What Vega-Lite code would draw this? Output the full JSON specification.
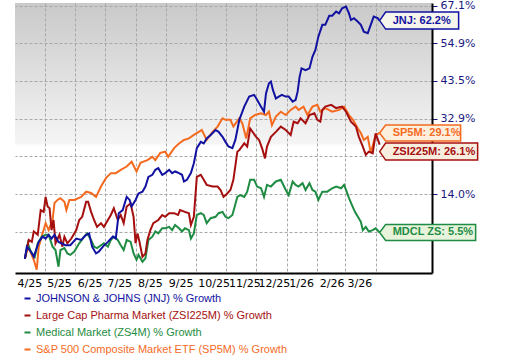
{
"$schema": "https://vega.github.io/schema/vega-lite/v6.json",
"width": 417, "height": 270,
"autosize": {"type": "none"},
"padding": {"left": 15, "top": 3, "right": 73, "bottom": 83},
"background": "#ffffff",
"config": {"axisX": {"labelOverlap": false, "labelFlush": false}, "axisTemporal": {"labelOverlap": false}},
"view": {"stroke": null, "fill": {"gradient": "linear", "x1": 0, "y1": 0, "x2": 0, "y2": 1, "stops": [{"offset": 0, "color": "#c9c9c9"}, {"offset": 0.52, "color": "#f5f5f5"}, {"offset": 0.53, "color": "#ffffff"}, {"offset": 1, "color": "#ffffff"}]}},
"datasets": {
"lines": [
{"series":"SP5M","date":"2025/04/11","value":100.0},{"series":"SP5M","date":"2025/04/14","value":102.5},{"series":"SP5M","date":"2025/04/17","value":101.2},{"series":"SP5M","date":"2025/04/20","value":99.8},{"series":"SP5M","date":"2025/04/23","value":97.8},{"series":"SP5M","date":"2025/04/25","value":102.5},{"series":"SP5M","date":"2025/04/29","value":105.4},{"series":"SP5M","date":"2025/05/02","value":107.5},{"series":"SP5M","date":"2025/05/05","value":106.0},{"series":"SP5M","date":"2025/05/09","value":108.2},{"series":"SP5M","date":"2025/05/11","value":112.0},{"series":"SP5M","date":"2025/05/14","value":112.7},{"series":"SP5M","date":"2025/05/17","value":113.1},{"series":"SP5M","date":"2025/05/21","value":112.3},{"series":"SP5M","date":"2025/05/23","value":110.4},{"series":"SP5M","date":"2025/05/26","value":112.7},{"series":"SP5M","date":"2025/05/31","value":112.7},{"series":"SP5M","date":"2025/06/07","value":113.4},{"series":"SP5M","date":"2025/06/12","value":114.6},{"series":"SP5M","date":"2025/06/17","value":114.3},{"series":"SP5M","date":"2025/06/22","value":113.4},{"series":"SP5M","date":"2025/06/27","value":115.8},{"series":"SP5M","date":"2025/07/02","value":117.8},{"series":"SP5M","date":"2025/07/07","value":119.0},{"series":"SP5M","date":"2025/07/12","value":119.0},{"series":"SP5M","date":"2025/07/17","value":119.8},{"series":"SP5M","date":"2025/07/23","value":120.6},{"series":"SP5M","date":"2025/07/28","value":121.8},{"series":"SP5M","date":"2025/08/02","value":119.4},{"series":"SP5M","date":"2025/08/06","value":121.5},{"series":"SP5M","date":"2025/08/13","value":122.2},{"series":"SP5M","date":"2025/08/18","value":123.0},{"series":"SP5M","date":"2025/08/21","value":122.2},{"series":"SP5M","date":"2025/08/26","value":124.0},{"series":"SP5M","date":"2025/08/31","value":124.3},{"series":"SP5M","date":"2025/09/03","value":123.0},{"series":"SP5M","date":"2025/09/09","value":125.2},{"series":"SP5M","date":"2025/09/14","value":126.4},{"series":"SP5M","date":"2025/09/19","value":127.3},{"series":"SP5M","date":"2025/09/24","value":127.7},{"series":"SP5M","date":"2025/09/29","value":128.6},{"series":"SP5M","date":"2025/10/04","value":129.4},{"series":"SP5M","date":"2025/10/07","value":129.9},{"series":"SP5M","date":"2025/10/12","value":127.3},{"series":"SP5M","date":"2025/10/18","value":129.4},{"series":"SP5M","date":"2025/10/23","value":130.8},{"series":"SP5M","date":"2025/10/28","value":133.0},{"series":"SP5M","date":"2025/10/31","value":132.6},{"series":"SP5M","date":"2025/11/05","value":132.6},{"series":"SP5M","date":"2025/11/08","value":130.8},{"series":"SP5M","date":"2025/11/14","value":133.0},{"series":"SP5M","date":"2025/11/17","value":131.7},{"series":"SP5M","date":"2025/11/21","value":127.7},{"series":"SP5M","date":"2025/11/25","value":133.0},{"series":"SP5M","date":"2025/11/30","value":133.9},{"series":"SP5M","date":"2025/12/06","value":134.4},{"series":"SP5M","date":"2025/12/11","value":133.9},{"series":"SP5M","date":"2025/12/14","value":134.8},{"series":"SP5M","date":"2025/12/17","value":131.2},{"series":"SP5M","date":"2025/12/21","value":133.5},{"series":"SP5M","date":"2025/12/26","value":134.8},{"series":"SP5M","date":"2025/12/31","value":133.9},{"series":"SP5M","date":"2026/01/05","value":135.3},{"series":"SP5M","date":"2026/01/10","value":136.2},{"series":"SP5M","date":"2026/01/13","value":135.3},{"series":"SP5M","date":"2026/01/18","value":136.2},{"series":"SP5M","date":"2026/01/22","value":133.9},{"series":"SP5M","date":"2026/01/27","value":136.2},{"series":"SP5M","date":"2026/02/01","value":136.7},{"series":"SP5M","date":"2026/02/04","value":134.8},{"series":"SP5M","date":"2026/02/09","value":135.8},{"series":"SP5M","date":"2026/02/16","value":134.8},{"series":"SP5M","date":"2026/02/23","value":135.3},{"series":"SP5M","date":"2026/02/28","value":136.2},{"series":"SP5M","date":"2026/03/05","value":133.9},{"series":"SP5M","date":"2026/03/09","value":132.6},{"series":"SP5M","date":"2026/03/14","value":130.3},{"series":"SP5M","date":"2026/03/17","value":129.1},{"series":"SP5M","date":"2026/03/20","value":127.3},{"series":"SP5M","date":"2026/03/24","value":128.1},{"series":"SP5M","date":"2026/03/27","value":124.0},{"series":"SP5M","date":"2026/04/01","value":128.6},{"series":"SP5M","date":"2026/04/05","value":129.1},
{"series":"ZS4M","date":"2025/04/11","value":100.0},{"series":"ZS4M","date":"2025/04/14","value":103.2},{"series":"ZS4M","date":"2025/04/17","value":101.5},{"series":"ZS4M","date":"2025/04/21","value":100.4},{"series":"ZS4M","date":"2025/04/24","value":103.2},{"series":"ZS4M","date":"2025/04/28","value":104.6},{"series":"ZS4M","date":"2025/05/02","value":105.0},{"series":"ZS4M","date":"2025/05/05","value":105.0},{"series":"ZS4M","date":"2025/05/09","value":102.5},{"series":"ZS4M","date":"2025/05/12","value":101.8},{"series":"ZS4M","date":"2025/05/15","value":98.4},{"series":"ZS4M","date":"2025/05/17","value":101.8},{"series":"ZS4M","date":"2025/05/21","value":102.2},{"series":"ZS4M","date":"2025/05/24","value":101.1},{"series":"ZS4M","date":"2025/05/27","value":100.8},{"series":"ZS4M","date":"2025/05/31","value":101.5},{"series":"ZS4M","date":"2025/06/05","value":103.2},{"series":"ZS4M","date":"2025/06/10","value":104.6},{"series":"ZS4M","date":"2025/06/13","value":105.3},{"series":"ZS4M","date":"2025/06/17","value":103.9},{"series":"ZS4M","date":"2025/06/20","value":102.5},{"series":"ZS4M","date":"2025/06/23","value":102.2},{"series":"ZS4M","date":"2025/06/27","value":102.8},{"series":"ZS4M","date":"2025/06/30","value":103.2},{"series":"ZS4M","date":"2025/07/04","value":102.5},{"series":"ZS4M","date":"2025/07/07","value":103.9},{"series":"ZS4M","date":"2025/07/10","value":104.6},{"series":"ZS4M","date":"2025/07/14","value":103.9},{"series":"ZS4M","date":"2025/07/17","value":102.8},{"series":"ZS4M","date":"2025/07/20","value":101.8},{"series":"ZS4M","date":"2025/07/23","value":103.9},{"series":"ZS4M","date":"2025/07/27","value":103.5},{"series":"ZS4M","date":"2025/07/30","value":101.1},{"series":"ZS4M","date":"2025/08/02","value":99.8},{"series":"ZS4M","date":"2025/08/04","value":100.8},{"series":"ZS4M","date":"2025/08/08","value":99.4},{"series":"ZS4M","date":"2025/08/11","value":100.1},{"series":"ZS4M","date":"2025/08/14","value":103.9},{"series":"ZS4M","date":"2025/08/18","value":104.6},{"series":"ZS4M","date":"2025/08/21","value":105.7},{"series":"ZS4M","date":"2025/08/24","value":105.3},{"series":"ZS4M","date":"2025/08/28","value":106.4},{"series":"ZS4M","date":"2025/08/31","value":106.4},{"series":"ZS4M","date":"2025/09/04","value":106.7},{"series":"ZS4M","date":"2025/09/07","value":106.0},{"series":"ZS4M","date":"2025/09/10","value":107.1},{"series":"ZS4M","date":"2025/09/14","value":106.4},{"series":"ZS4M","date":"2025/09/17","value":105.7},{"series":"ZS4M","date":"2025/09/20","value":106.4},{"series":"ZS4M","date":"2025/09/24","value":106.0},{"series":"ZS4M","date":"2025/09/26","value":104.2},{"series":"ZS4M","date":"2025/09/29","value":105.3},{"series":"ZS4M","date":"2025/10/02","value":109.3},{"series":"ZS4M","date":"2025/10/06","value":109.7},{"series":"ZS4M","date":"2025/10/09","value":109.3},{"series":"ZS4M","date":"2025/10/12","value":107.5},{"series":"ZS4M","date":"2025/10/16","value":108.6},{"series":"ZS4M","date":"2025/10/21","value":108.9},{"series":"ZS4M","date":"2025/10/24","value":109.7},{"series":"ZS4M","date":"2025/10/28","value":110.0},{"series":"ZS4M","date":"2025/10/31","value":108.9},{"series":"ZS4M","date":"2025/11/03","value":108.6},{"series":"ZS4M","date":"2025/11/07","value":109.3},{"series":"ZS4M","date":"2025/11/12","value":113.4},{"series":"ZS4M","date":"2025/11/15","value":113.8},{"series":"ZS4M","date":"2025/11/19","value":113.4},{"series":"ZS4M","date":"2025/11/22","value":114.6},{"series":"ZS4M","date":"2025/11/25","value":117.4},{"series":"ZS4M","date":"2025/11/29","value":117.4},{"series":"ZS4M","date":"2025/12/02","value":115.8},{"series":"ZS4M","date":"2025/12/06","value":115.4},{"series":"ZS4M","date":"2025/12/09","value":113.4},{"series":"ZS4M","date":"2025/12/12","value":116.2},{"series":"ZS4M","date":"2025/12/16","value":115.8},{"series":"ZS4M","date":"2025/12/21","value":117.0},{"series":"ZS4M","date":"2025/12/26","value":117.4},{"series":"ZS4M","date":"2025/12/31","value":115.0},{"series":"ZS4M","date":"2026/01/03","value":113.8},{"series":"ZS4M","date":"2026/01/07","value":117.0},{"series":"ZS4M","date":"2026/01/10","value":116.2},{"series":"ZS4M","date":"2026/01/13","value":115.8},{"series":"ZS4M","date":"2026/01/17","value":116.6},{"series":"ZS4M","date":"2026/01/20","value":115.0},{"series":"ZS4M","date":"2026/01/24","value":116.6},{"series":"ZS4M","date":"2026/01/27","value":115.0},{"series":"ZS4M","date":"2026/01/30","value":114.6},{"series":"ZS4M","date":"2026/02/02","value":112.7},{"series":"ZS4M","date":"2026/02/06","value":114.6},{"series":"ZS4M","date":"2026/02/11","value":114.6},{"series":"ZS4M","date":"2026/02/16","value":115.4},{"series":"ZS4M","date":"2026/02/20","value":115.8},{"series":"ZS4M","date":"2026/02/25","value":115.4},{"series":"ZS4M","date":"2026/02/28","value":116.2},{"series":"ZS4M","date":"2026/03/02","value":115.0},{"series":"ZS4M","date":"2026/03/05","value":113.1},{"series":"ZS4M","date":"2026/03/08","value":111.5},{"series":"ZS4M","date":"2026/03/11","value":110.0},{"series":"ZS4M","date":"2026/03/14","value":108.9},{"series":"ZS4M","date":"2026/03/17","value":107.8},{"series":"ZS4M","date":"2026/03/19","value":106.0},{"series":"ZS4M","date":"2026/03/22","value":106.7},{"series":"ZS4M","date":"2026/03/25","value":105.7},{"series":"ZS4M","date":"2026/03/29","value":106.0},{"series":"ZS4M","date":"2026/04/01","value":106.4},{"series":"ZS4M","date":"2026/04/05","value":105.5},
{"series":"ZSI225M","date":"2025/04/11","value":100.0},{"series":"ZSI225M","date":"2025/04/15","value":103.9},{"series":"ZSI225M","date":"2025/04/18","value":103.5},{"series":"ZSI225M","date":"2025/04/20","value":105.7},{"series":"ZSI225M","date":"2025/04/22","value":105.4},{"series":"ZSI225M","date":"2025/04/24","value":105.0},{"series":"ZSI225M","date":"2025/04/27","value":110.4},{"series":"ZSI225M","date":"2025/04/30","value":110.0},{"series":"ZSI225M","date":"2025/05/02","value":113.4},{"series":"ZSI225M","date":"2025/05/04","value":111.2},{"series":"ZSI225M","date":"2025/05/06","value":110.8},{"series":"ZSI225M","date":"2025/05/08","value":106.0},{"series":"ZSI225M","date":"2025/05/10","value":108.2},{"series":"ZSI225M","date":"2025/05/12","value":103.2},{"series":"ZSI225M","date":"2025/05/16","value":105.0},{"series":"ZSI225M","date":"2025/05/19","value":102.5},{"series":"ZSI225M","date":"2025/05/21","value":104.6},{"series":"ZSI225M","date":"2025/05/24","value":103.2},{"series":"ZSI225M","date":"2025/05/28","value":104.2},{"series":"ZSI225M","date":"2025/06/02","value":106.0},{"series":"ZSI225M","date":"2025/06/05","value":108.2},{"series":"ZSI225M","date":"2025/06/08","value":108.9},{"series":"ZSI225M","date":"2025/06/12","value":112.3},{"series":"ZSI225M","date":"2025/06/14","value":112.3},{"series":"ZSI225M","date":"2025/06/17","value":110.0},{"series":"ZSI225M","date":"2025/06/20","value":108.2},{"series":"ZSI225M","date":"2025/06/23","value":106.7},{"series":"ZSI225M","date":"2025/06/27","value":107.5},{"series":"ZSI225M","date":"2025/06/30","value":106.7},{"series":"ZSI225M","date":"2025/07/04","value":108.2},{"series":"ZSI225M","date":"2025/07/07","value":109.3},{"series":"ZSI225M","date":"2025/07/10","value":110.8},{"series":"ZSI225M","date":"2025/07/14","value":108.2},{"series":"ZSI225M","date":"2025/07/17","value":109.3},{"series":"ZSI225M","date":"2025/07/20","value":107.5},{"series":"ZSI225M","date":"2025/07/23","value":111.2},{"series":"ZSI225M","date":"2025/07/27","value":111.9},{"series":"ZSI225M","date":"2025/07/30","value":108.9},{"series":"ZSI225M","date":"2025/08/01","value":103.2},{"series":"ZSI225M","date":"2025/08/03","value":105.3},{"series":"ZSI225M","date":"2025/08/05","value":103.5},{"series":"ZSI225M","date":"2025/08/08","value":100.4},{"series":"ZSI225M","date":"2025/08/11","value":101.1},{"series":"ZSI225M","date":"2025/08/13","value":103.9},{"series":"ZSI225M","date":"2025/08/16","value":106.0},{"series":"ZSI225M","date":"2025/08/19","value":107.5},{"series":"ZSI225M","date":"2025/08/24","value":108.2},{"series":"ZSI225M","date":"2025/08/28","value":109.3},{"series":"ZSI225M","date":"2025/08/31","value":108.9},{"series":"ZSI225M","date":"2025/09/04","value":109.7},{"series":"ZSI225M","date":"2025/09/09","value":109.7},{"series":"ZSI225M","date":"2025/09/13","value":109.3},{"series":"ZSI225M","date":"2025/09/15","value":110.4},{"series":"ZSI225M","date":"2025/09/20","value":110.0},{"series":"ZSI225M","date":"2025/09/24","value":109.7},{"series":"ZSI225M","date":"2025/09/26","value":107.1},{"series":"ZSI225M","date":"2025/09/29","value":108.9},{"series":"ZSI225M","date":"2025/10/02","value":118.1},{"series":"ZSI225M","date":"2025/10/06","value":118.6},{"series":"ZSI225M","date":"2025/10/09","value":117.4},{"series":"ZSI225M","date":"2025/10/12","value":116.2},{"series":"ZSI225M","date":"2025/10/18","value":115.8},{"series":"ZSI225M","date":"2025/10/23","value":115.8},{"series":"ZSI225M","date":"2025/10/26","value":115.0},{"series":"ZSI225M","date":"2025/10/29","value":113.4},{"series":"ZSI225M","date":"2025/11/01","value":114.0},{"series":"ZSI225M","date":"2025/11/05","value":115.0},{"series":"ZSI225M","date":"2025/11/08","value":117.4},{"series":"ZSI225M","date":"2025/11/12","value":124.3},{"series":"ZSI225M","date":"2025/11/14","value":124.7},{"series":"ZSI225M","date":"2025/11/19","value":126.4},{"series":"ZSI225M","date":"2025/11/22","value":125.6},{"series":"ZSI225M","date":"2025/11/25","value":130.3},{"series":"ZSI225M","date":"2025/12/01","value":128.1},{"series":"ZSI225M","date":"2025/12/04","value":127.3},{"series":"ZSI225M","date":"2025/12/07","value":125.2},{"series":"ZSI225M","date":"2025/12/10","value":122.6},{"series":"ZSI225M","date":"2025/12/12","value":125.6},{"series":"ZSI225M","date":"2025/12/16","value":128.1},{"series":"ZSI225M","date":"2025/12/21","value":129.4},{"series":"ZSI225M","date":"2025/12/26","value":130.8},{"series":"ZSI225M","date":"2025/12/31","value":129.9},{"series":"ZSI225M","date":"2026/01/05","value":128.6},{"series":"ZSI225M","date":"2026/01/08","value":132.1},{"series":"ZSI225M","date":"2026/01/12","value":131.7},{"series":"ZSI225M","date":"2026/01/15","value":133.0},{"series":"ZSI225M","date":"2026/01/20","value":131.7},{"series":"ZSI225M","date":"2026/01/24","value":133.9},{"series":"ZSI225M","date":"2026/01/29","value":134.4},{"series":"ZSI225M","date":"2026/02/01","value":132.6},{"series":"ZSI225M","date":"2026/02/04","value":132.1},{"series":"ZSI225M","date":"2026/02/06","value":135.3},{"series":"ZSI225M","date":"2026/02/09","value":136.2},{"series":"ZSI225M","date":"2026/02/15","value":136.7},{"series":"ZSI225M","date":"2026/02/20","value":135.8},{"series":"ZSI225M","date":"2026/02/26","value":136.2},{"series":"ZSI225M","date":"2026/03/02","value":134.8},{"series":"ZSI225M","date":"2026/03/07","value":132.1},{"series":"ZSI225M","date":"2026/03/12","value":130.8},{"series":"ZSI225M","date":"2026/03/15","value":128.1},{"series":"ZSI225M","date":"2026/03/19","value":125.6},{"series":"ZSI225M","date":"2026/03/22","value":123.5},{"series":"ZSI225M","date":"2026/03/25","value":124.3},{"series":"ZSI225M","date":"2026/03/29","value":123.9},{"series":"ZSI225M","date":"2026/04/01","value":129.0},{"series":"ZSI225M","date":"2026/04/05","value":126.1},
{"series":"JNJ","date":"2025/04/11","value":100.0},{"series":"JNJ","date":"2025/04/13","value":102.5},{"series":"JNJ","date":"2025/04/17","value":101.5},{"series":"JNJ","date":"2025/04/20","value":100.4},{"series":"JNJ","date":"2025/04/25","value":103.5},{"series":"JNJ","date":"2025/04/29","value":104.6},{"series":"JNJ","date":"2025/05/02","value":104.2},{"series":"JNJ","date":"2025/05/05","value":105.0},{"series":"JNJ","date":"2025/05/08","value":104.2},{"series":"JNJ","date":"2025/05/11","value":105.0},{"series":"JNJ","date":"2025/05/15","value":103.5},{"series":"JNJ","date":"2025/05/22","value":102.8},{"series":"JNJ","date":"2025/05/27","value":102.8},{"series":"JNJ","date":"2025/06/02","value":104.2},{"series":"JNJ","date":"2025/06/07","value":103.9},{"series":"JNJ","date":"2025/06/12","value":105.0},{"series":"JNJ","date":"2025/06/15","value":105.3},{"series":"JNJ","date":"2025/06/18","value":102.5},{"series":"JNJ","date":"2025/06/22","value":101.1},{"series":"JNJ","date":"2025/06/25","value":101.5},{"series":"JNJ","date":"2025/06/29","value":102.5},{"series":"JNJ","date":"2025/07/04","value":103.5},{"series":"JNJ","date":"2025/07/09","value":104.6},{"series":"JNJ","date":"2025/07/12","value":104.2},{"series":"JNJ","date":"2025/07/15","value":109.7},{"series":"JNJ","date":"2025/07/19","value":110.4},{"series":"JNJ","date":"2025/07/23","value":113.4},{"series":"JNJ","date":"2025/07/26","value":112.7},{"series":"JNJ","date":"2025/07/28","value":111.2},{"series":"JNJ","date":"2025/08/01","value":112.7},{"series":"JNJ","date":"2025/08/04","value":114.2},{"series":"JNJ","date":"2025/08/08","value":114.6},{"series":"JNJ","date":"2025/08/11","value":115.8},{"series":"JNJ","date":"2025/08/14","value":118.1},{"series":"JNJ","date":"2025/08/18","value":118.6},{"series":"JNJ","date":"2025/08/21","value":119.8},{"series":"JNJ","date":"2025/08/24","value":120.2},{"series":"JNJ","date":"2025/08/28","value":118.6},{"series":"JNJ","date":"2025/08/31","value":119.0},{"series":"JNJ","date":"2025/09/04","value":119.8},{"series":"JNJ","date":"2025/09/07","value":119.0},{"series":"JNJ","date":"2025/09/10","value":119.4},{"series":"JNJ","date":"2025/09/14","value":119.0},{"series":"JNJ","date":"2025/09/17","value":118.6},{"series":"JNJ","date":"2025/09/19","value":117.0},{"series":"JNJ","date":"2025/09/22","value":117.4},{"series":"JNJ","date":"2025/09/26","value":119.0},{"series":"JNJ","date":"2025/09/29","value":121.4},{"series":"JNJ","date":"2025/10/02","value":125.2},{"series":"JNJ","date":"2025/10/06","value":126.8},{"series":"JNJ","date":"2025/10/09","value":126.4},{"series":"JNJ","date":"2025/10/12","value":127.7},{"series":"JNJ","date":"2025/10/16","value":128.6},{"series":"JNJ","date":"2025/10/21","value":129.9},{"series":"JNJ","date":"2025/10/24","value":129.4},{"series":"JNJ","date":"2025/10/28","value":128.1},{"series":"JNJ","date":"2025/10/31","value":126.8},{"series":"JNJ","date":"2025/11/03","value":125.6},{"series":"JNJ","date":"2025/11/07","value":125.2},{"series":"JNJ","date":"2025/11/10","value":127.3},{"series":"JNJ","date":"2025/11/14","value":132.6},{"series":"JNJ","date":"2025/11/19","value":136.2},{"series":"JNJ","date":"2025/11/24","value":139.0},{"series":"JNJ","date":"2025/11/29","value":139.5},{"series":"JNJ","date":"2025/12/02","value":138.1},{"series":"JNJ","date":"2025/12/06","value":136.2},{"series":"JNJ","date":"2025/12/09","value":134.8},{"series":"JNJ","date":"2025/12/11","value":139.9},{"series":"JNJ","date":"2025/12/14","value":142.8},{"series":"JNJ","date":"2025/12/16","value":143.3},{"series":"JNJ","date":"2025/12/18","value":140.9},{"series":"JNJ","date":"2025/12/21","value":138.5},{"series":"JNJ","date":"2025/12/24","value":139.0},{"series":"JNJ","date":"2025/12/27","value":139.5},{"series":"JNJ","date":"2025/12/31","value":139.0},{"series":"JNJ","date":"2026/01/03","value":139.0},{"series":"JNJ","date":"2026/01/07","value":137.6},{"series":"JNJ","date":"2026/01/10","value":138.1},{"series":"JNJ","date":"2026/01/12","value":140.4},{"series":"JNJ","date":"2026/01/14","value":144.7},{"series":"JNJ","date":"2026/01/16","value":147.2},{"series":"JNJ","date":"2026/01/20","value":146.7},{"series":"JNJ","date":"2026/01/24","value":147.2},{"series":"JNJ","date":"2026/01/27","value":150.7},{"series":"JNJ","date":"2026/01/30","value":152.8},{"series":"JNJ","date":"2026/02/02","value":157.0},{"series":"JNJ","date":"2026/02/06","value":160.8},{"series":"JNJ","date":"2026/02/09","value":160.8},{"series":"JNJ","date":"2026/02/13","value":163.8},{"series":"JNJ","date":"2026/02/16","value":163.8},{"series":"JNJ","date":"2026/02/20","value":165.2},{"series":"JNJ","date":"2026/02/23","value":164.6},{"series":"JNJ","date":"2026/02/26","value":166.3},{"series":"JNJ","date":"2026/03/02","value":166.9},{"series":"JNJ","date":"2026/03/05","value":164.6},{"series":"JNJ","date":"2026/03/07","value":162.4},{"series":"JNJ","date":"2026/03/10","value":163.0},{"series":"JNJ","date":"2026/03/14","value":161.8},{"series":"JNJ","date":"2026/03/17","value":160.8},{"series":"JNJ","date":"2026/03/20","value":158.6},{"series":"JNJ","date":"2026/03/24","value":158.1},{"series":"JNJ","date":"2026/03/27","value":160.8},{"series":"JNJ","date":"2026/03/30","value":163.5},{"series":"JNJ","date":"2026/04/03","value":163.0},{"series":"JNJ","date":"2026/04/05","value":162.2}
],
"tags": [
{"series":"JNJ","date":"2026/04/05","value":162.2,"tag":"JNJ: 62.2%"},
{"series":"ZSI225M","date":"2026/04/05","value":126.1,"tag":"ZSI225M: 26.1%"},
{"series":"ZS4M","date":"2026/04/05","value":105.5,"tag":"MDCL ZS: 5.5%"},
{"series":"SP5M","date":"2026/04/05","value":129.1,"tag":"SP5M: 29.1%"}
]
},
"layer": [
{
"data": {"name": "lines"},
"mark": {"type": "line", "strokeWidth": 2, "interpolate": "linear"},
"encoding": {
"x": {"field": "date", "type": "temporal",
 "scale": {"domain": [{"year": 2025, "month": 4, "date": 1}, {"year": 2026, "month": 5, "date": 28}]},
 "axis": {"title": null, "tickCount": {"interval": "month", "step": 1},
  "format": "%-m/%y",
  "labelColor": {"condition": {"test": "year(datum.value) == 2026 && month(datum.value) >= 3", "value": "transparent"}, "value": "#000000"},
  "labelAlign": "left", "labelOffset": 2, "labelPadding": 4, "labelFont": "DejaVu Sans", "labelFontSize": 11,
  "labelOverlap": false, "labelFlush": false, "labelBound": false, "labelSeparation": 0, "ticks": false,
  "domainColor": "#000000", "domainWidth": 2,
  "grid": true, "gridDash": [3, 2], "gridWidth": 1,
  "gridColor": {"condition": {"test": "(year(datum.value) == 2025 && month(datum.value) == 3) || (year(datum.value) == 2026 && month(datum.value) == 4)", "value": "transparent"}, "value": "#a8a8a8"}}},
"y": {"field": "value", "type": "quantitative",
 "scale": {"type": "log", "domain": [97.16, 168.1], "nice": false, "zero": false},
 "axis": {"orient": "right", "title": null, "values": [105.6, 114.0, 123.1, 132.9, 143.5, 154.9, 167.1],
  "labelExpr": "(abs(datum.value - 123.1) < 0.01 || abs(datum.value - 105.6) < 0.01) ? '' : format(datum.value - 100, '.1f') + '%'",
  "labelFont": "DejaVu Sans", "labelFontSize": 11, "labelColor": "#1a1a80", "labelPadding": 3, "labelOverlap": false, "labelFlush": false,
  "tickColor": "#1a1a80", "tickSize": 5, "domainColor": "#000000", "domainWidth": 2,
  "grid": true, "gridDash": [3, 2], "gridColor": "#a8a8a8", "gridWidth": 1}},
"color": {"field": "series", "type": "nominal",
 "scale": {"domain": ["JNJ", "ZSI225M", "ZS4M", "SP5M"], "range": ["#1212a2", "#a50f0f", "#1f8c43", "#f46b1f"]},
 "legend": {"orient": "none", "legendX": 7, "legendY": 290, "title": null, "direction": "vertical", "padding": 0,
  "symbolType": "stroke", "symbolSize": 36, "symbolStrokeWidth": 2, "labelFont": "Liberation Sans", "labelFontSize": 11,
  "labelOffset": 3, "rowPadding": 5, "labelLimit": 400,
  "labelExpr": "datum.label == 'JNJ' ? 'JOHNSON & JOHNS (JNJ) % Growth' : datum.label == 'ZSI225M' ? 'Large Cap Pharma Market (ZSI225M) % Growth' : datum.label == 'ZS4M' ? 'Medical Market (ZS4M) % Growth' : 'S&P 500 Composite Market ETF (SP5M) % Growth'",
  "encode": {"labels": {"update": {"fill": {"scale": "color", "field": "value"}}}}}}
}
},
{
"data": {"name": "tags"},
"mark": {"type": "point", "size": 4, "filled": true, "strokeWidth": 1.5, "opacity": 1},
"encoding": {
"x": {"field": "date", "type": "temporal"},
"y": {"field": "value", "type": "quantitative"},
"shape": {"field": "tag", "type": "nominal", "legend": null,
 "scale": {"domain": ["JNJ: 62.2%", "ZSI225M: 26.1%", "MDCL ZS: 5.5%", "SP5M: 29.1%"], "range": ["M0,0L6,-8.5L79,-8.5L79,8.5L6,8.5Z", "M0,7L6,-1.5L98,-1.5L98,15.5L6,15.5Z", "M0,0L6,-8L96,-8L96,8L6,8Z", "M0,0L6,-8L81,-8L81,8L6,8Z"]}},
"fill": {"field": "tag", "type": "nominal", "legend": null,
 "scale": {"domain": ["JNJ: 62.2%", "ZSI225M: 26.1%", "MDCL ZS: 5.5%", "SP5M: 29.1%"], "range": ["#f5f5ec", "#f8eee0", "#e8f3dc", "#fdefdd"]}},
"stroke": {"field": "tag", "type": "nominal", "legend": null,
 "scale": {"domain": ["JNJ: 62.2%", "ZSI225M: 26.1%", "MDCL ZS: 5.5%", "SP5M: 29.1%"], "range": ["#1212a2", "#a50f0f", "#1f8c43", "#f46b1f"]}}
}
},
{
"data": {"name": "tags"},
"transform": [{"filter": "datum.series != 'ZSI225M'"}],
"mark": {"type": "text", "align": "left", "baseline": "middle", "dx": 13, "font": "Liberation Sans", "fontWeight": "bold", "fontSize": 11},
"encoding": {
"x": {"field": "date", "type": "temporal"},
"y": {"field": "value", "type": "quantitative"},
"text": {"field": "tag", "type": "nominal"},
"color": {"field": "series", "type": "nominal"}
}
},
{
"data": {"name": "tags"},
"transform": [{"filter": "datum.series == 'ZSI225M'"}],
"mark": {"type": "text", "align": "left", "baseline": "middle", "dx": 13, "dy": 7, "font": "Liberation Sans", "fontWeight": "bold", "fontSize": 11},
"encoding": {
"x": {"field": "date", "type": "temporal"},
"y": {"field": "value", "type": "quantitative"},
"text": {"field": "tag", "type": "nominal"},
"color": {"field": "series", "type": "nominal"}
}
}
]
}
